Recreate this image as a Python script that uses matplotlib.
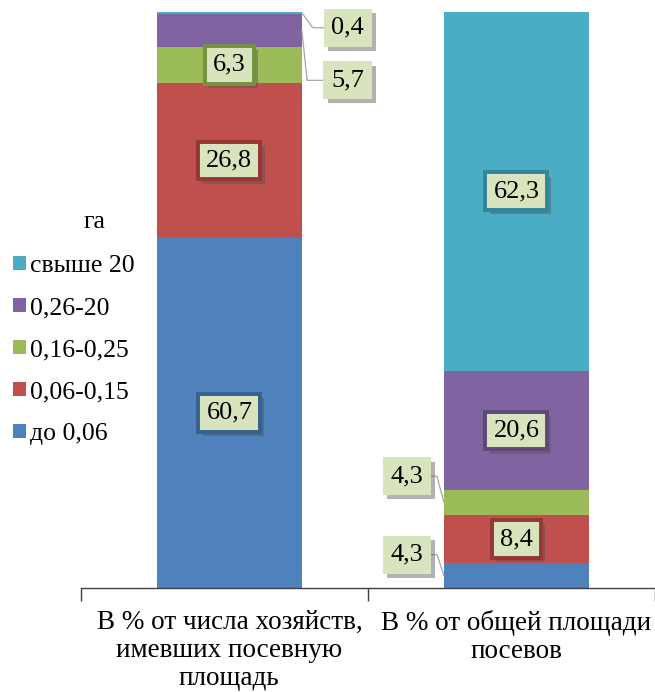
import matplotlib
matplotlib.use("Agg")
import matplotlib.pyplot as plt
import matplotlib.patheffects as pe
from matplotlib.patches import Patch
import numpy as np

plt.rcParams['font.family'] = ['Liberation Serif', 'DejaVu Serif']

categories = ["В % от числа хозяйств,\nимевших посевную\nплощадь",
              "В % от общей площади\nпосевов"]
series_names = ["до 0,06", "0,06-0,15", "0,16-0,25", "0,26-20", "свыше 20"]
values = {
    "до 0,06":   [60.7, 4.3],
    "0,06-0,15": [26.8, 8.4],
    "0,16-0,25": [6.3, 4.3],
    "0,26-20":   [5.7, 20.6],
    "свыше 20":  [0.4, 62.3],
}
legend_title = "га"

colors = ["#4F81BD", "#C0504D", "#9BBB59", "#8064A2", "#4BACC6"]
edge_colors = ["#36618F", "#953735", "#76923C", "#5F497A", "#31859C"]
label_fc = "#D7E4BD"

# labels placed outside the bar: (series index, category index) -> (dx px, dy px, side, angleB)
outside = {
    (4, 0): (46, -15, 'right', -54),
    (3, 0): (46, -50, 'right', -84),
    (2, 1): (-37, 26, 'left', 105),
    (0, 1): (-37, 21, 'left', 108),
}

fig = plt.figure(figsize=(6.55, 6.92), dpi=100)
ax = fig.add_axes([81/655, 1 - 588/692, 1 - 81/655, (588 - 11)/692])

x = np.arange(len(categories))
width = 0.505
bottom = np.zeros(len(categories))
shadow = [pe.SimplePatchShadow(offset=(3, -3), shadow_rgbFace='#555555', alpha=0.45), pe.Normal()]

for si, name in enumerate(series_names):
    vals = np.array(values[name])
    ax.bar(x, vals, width, bottom=bottom, color=colors[si], label=name, zorder=2)
    for ci, v in enumerate(vals):
        mid = bottom[ci] + v / 2
        txt = f"{v:.1f}".replace(".", ",")
        if (si, ci) in outside:
            dx, dy, side, angB = outside[(si, ci)]
            xe = x[ci] + (width / 2 if side == 'right' else -width / 2)
            ann = ax.annotate(txt, xy=(xe, mid), xytext=(dx, dy), textcoords='offset pixels',
                              ha='center', va='center', fontsize=19, zorder=5,
                              annotation_clip=False,
                              bbox=dict(boxstyle='square,pad=0.3', fc=label_fc, ec='none'),
                              arrowprops=dict(arrowstyle='-', color='#A6A6A6', lw=0.9,
                                              shrinkA=0, shrinkB=0,
                                              relpos=(0, 0.5) if side == 'right' else (1, 0.5),
                                              connectionstyle=f'angle,angleA=0,angleB={angB},rad=0'))
        else:
            ann = ax.annotate(txt, xy=(x[ci], mid), ha='center', va='center', fontsize=19, zorder=5,
                              bbox=dict(boxstyle='square,pad=0.3', fc=label_fc,
                                        ec=edge_colors[si], lw=2.8))
        ann.get_bbox_patch().set_path_effects(shadow)
    bottom += vals

ax.set_xlim(-0.517, 1.483)
ax.set_ylim(0, 100)
for s in ['top', 'right', 'left']:
    ax.spines[s].set_visible(False)
ax.spines['bottom'].set_color('#404040')
ax.spines['bottom'].set_linewidth(1.0)
ax.set_yticks([])
ax.set_xticks(x)
ax.set_xticklabels(categories, fontsize=19.5, linespacing=1.14)
ax.tick_params(axis='x', length=0, pad=16)
ax.set_xticks([-0.517, 0.483, 1.483], minor=True)
ax.tick_params(axis='x', which='minor', length=9, width=1.0, color='#404040')

handles = [Patch(facecolor=colors[i], label=series_names[i]) for i in range(len(series_names))][::-1]
leg = fig.legend(handles=handles, loc='upper left', bbox_to_anchor=(-5/655, 1 - 237/692),
                 frameon=False, fontsize=18.5, borderpad=0.2,
                 handlelength=0.5, handleheight=0.5, handletextpad=0.18, labelspacing=0.78)
fig.text(95/655, 1 - 222/692, legend_title, fontsize=18.5, ha='center', va='center')

fig.savefig("out.png", dpi=100)
